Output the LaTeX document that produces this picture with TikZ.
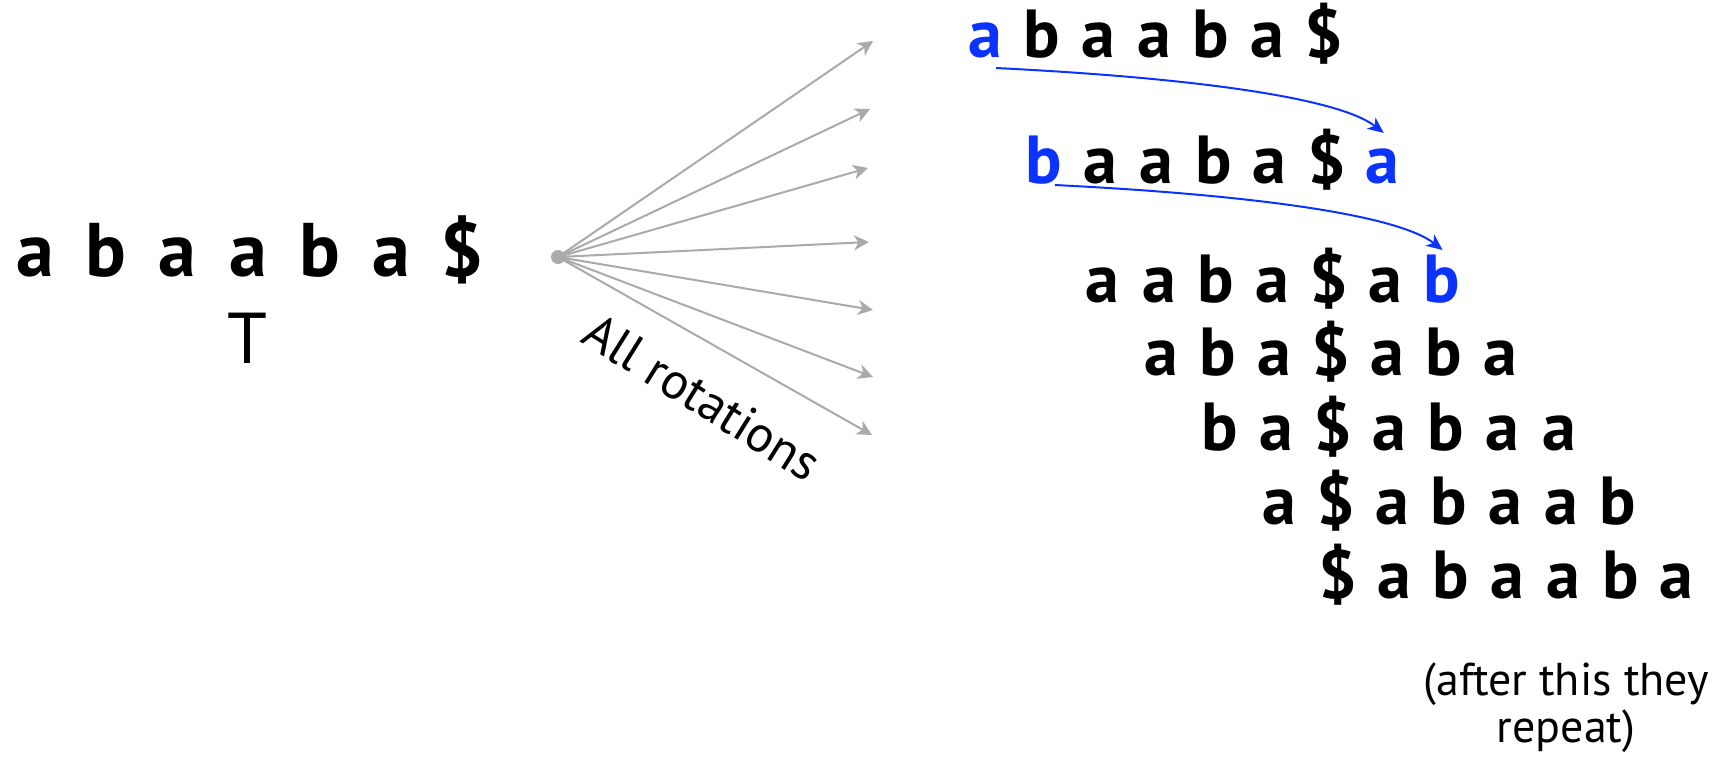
\documentclass[tikz,border=0pt]{standalone}
\usepackage{fontspec}
\setmainfont{PT Sans}
\usetikzlibrary{arrows.meta}
\definecolor{fangray}{HTML}{AAAAAA}
\definecolor{rotblue}{HTML}{0A33FF}
\newcommand{\hlch}[1]{\textcolor{rotblue}{#1}}
\tikzset{
  bigl/.style={font=\bfseries\fontsize{38}{40}\selectfont, inner sep=0pt, anchor=base},
  rowl/.style={font=\bfseries\fontsize{34}{36}\selectfont, inner sep=0pt, anchor=base},
  fan/.style={draw=fangray, line width=1pt, -{Stealth[length=7.5pt,width=7.5pt,inset=2.2pt]}},
  rotarrow/.style={draw=rotblue, line width=1pt, -{Stealth[length=8pt,width=7pt,inset=2.2pt]}},
  plain/.style={inner sep=0pt},
}
\begin{document}
\begin{tikzpicture}[x=0.5pt,y=-0.5pt]
\useasboundingbox (0,0) rectangle (1717,766);
% the text T
\foreach \ch [count=\i] in {a,b,a,a,b,a,\$}
  \node[bigl] (t\i) at ({35+71.2*(\i-1)},276) {\ch};
\node[plain, anchor=base, font=\fontsize{36}{40}\selectfont] (tl) at (247,363) {T};
% fan of arrows
\node[circle, fill=fangray, inner sep=0pt, minimum size=7pt] (o) at (558,257) {};
\coordinate (f1) at (873,41);
\coordinate (f2) at (870,109);
\coordinate (f3) at (868,168);
\coordinate (f4) at (869,242);
\coordinate (f5) at (873,310);
\coordinate (f6) at (873,377);
\coordinate (f7) at (872,435);
\foreach \i in {1,...,7} \draw[fan] (o.center) -- (f\i);
\node[plain, rotate=-32, anchor=base west, font=\fontsize{25.5}{28}\selectfont] (lab) at (579,341) {All rotations};
% rotations
\foreach \r/\y/\word in {
  1/57/{\hlch{a},b,a,a,b,a,\$},
  2/183/{\hlch{b},a,a,b,a,\$,\hlch{a}},
  3/302/{a,a,b,a,\$,a,\hlch{b}},
  4/375/{a,b,a,\$,a,b,a},
  5/450/{b,a,\$,a,b,a,a},
  6/524/{a,\$,a,b,a,a,b},
  7/598/{\$,a,b,a,a,b,a}}
{
  \foreach \ch [count=\c] in \word
    \node[rowl] (r\r-\c) at ({985+58.8*(\r-1)+56.5*(\c-1)},\y) {\ch};
}
% rotation arrows
\draw[rotarrow] ([shift={(11,11)}]r1-1.base) .. controls +(200,10) and +(-45,-35) .. ([shift={(1,-50)}]r2-7.base);
\draw[rotarrow] ([shift={(11,2)}]r2-1.base) .. controls +(200,10) and +(-45,-35) .. ([shift={(1,-52)}]r3-7.base);
% note
\node[plain, align=center, anchor=base, font=\fontsize{23}{23.5}\selectfont] (note) at (1566,742) {(after this they\\repeat)};
\end{tikzpicture}
\end{document}
